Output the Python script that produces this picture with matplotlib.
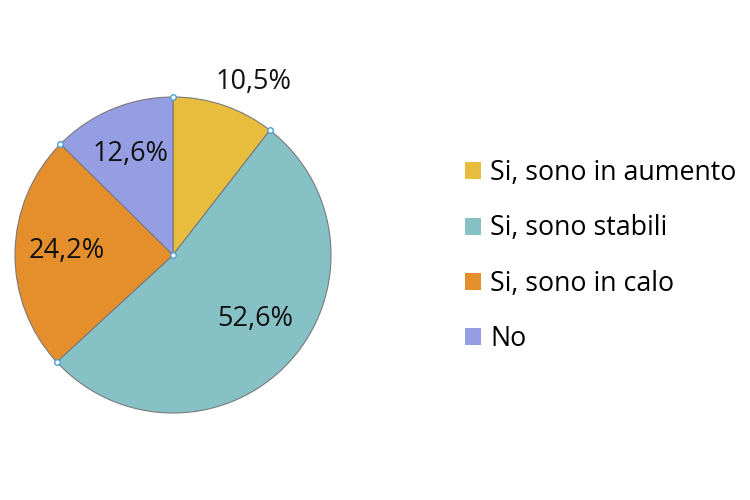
import numpy as np
import matplotlib
matplotlib.use("Agg")
import matplotlib.pyplot as plt
from matplotlib.patches import Patch

categories = ["Si, sono in aumento", "Si, sono stabili", "Si, sono in calo", "No"]
values = [10.5, 52.6, 24.2, 12.6]
labels = ["10,5%", "52,6%", "24,2%", "12,6%"]
colors = ["#E8BD3E", "#86C1C6", "#E58F2C", "#959EE3"]

plt.rcParams['font.family'] = ['Open Sans', 'DejaVu Sans']

fig = plt.figure(figsize=(7.5, 5), dpi=100)
R = 158
cx, cy = 173, 255
ax = fig.add_axes([(cx - R) / 750, (500 - cy - R) / 500, 2 * R / 750, 2 * R / 500])
wedges, texts = ax.pie(values, colors=colors, startangle=90, counterclock=False,
                       radius=1.0, wedgeprops=dict(edgecolor="#7a7a7a", linewidth=0.8))
ax.set_xlim(-1, 1)
ax.set_ylim(-1, 1)
ax.set_aspect('equal')
ax.axis('off')

# labels
total = sum(values)
cum = 0
dists = [1.21, 0.66, 0.67, 0.69]
ang_off = [-6, 5, -1, 0]
for v, lab, d, off in zip(values, labels, dists, ang_off):
    mid = 90 - (cum + v / 2) / total * 360 + off
    cum += v
    a = np.deg2rad(mid)
    ax.text(d * np.cos(a), d * np.sin(a), lab, ha='center', va='center',
            fontsize=19.5, color='#111111')

# small boundary markers
cum = 0
pts_x, pts_y = [0], [0]
for v in values:
    ang = np.deg2rad(90 - cum / total * 360)
    pts_x.append(np.cos(ang))
    pts_y.append(np.sin(ang))
    cum += v
ax.plot(pts_x, pts_y, 'o', ms=4, mfc='white', mec='#4a9fd8', mew=1.0,
        clip_on=False, zorder=5)

handles = [Patch(facecolor=c, edgecolor='none') for c in colors]
fig.legend(handles, categories, loc='center left', bbox_to_anchor=(0.588, 0.488),
           frameon=False, fontsize=19.3, handlelength=0.6, handleheight=0.6,
           handletextpad=0.34, labelspacing=1.01)

fig.savefig("out.png", dpi=100, facecolor='white')
